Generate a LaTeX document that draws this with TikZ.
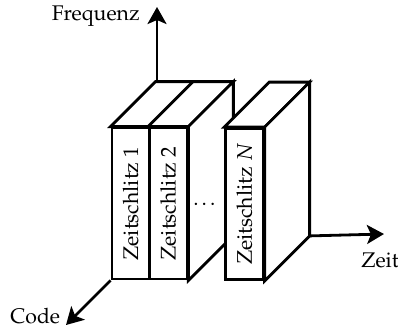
\documentclass[tikz,border=0pt]{standalone}
\usepackage[T1]{fontenc}
\usepackage{mathpazo}
\usetikzlibrary{arrows.meta,calc}
\tikzset{
  edge/.style={line width=1.4pt, line join=miter},
  axis/.style={line width=1.4pt, -{Stealth[length=8.5pt,width=9.5pt,inset=2pt]}},
  face/.style={edge, draw, fill=white, inner sep=0pt, minimum width=18.75pt, minimum height=75.5pt},
  txt/.style={font=\fontsize{10.6}{13}\selectfont},
  slotlabel/.style={txt, rotate=90},
  axlabel/.style={txt, inner sep=0pt}
}
\begin{document}
\begin{tikzpicture}[x=0.5pt,y=-0.5pt]
  \useasboundingbox (0,0) rectangle (398,328);
  % depth offset of the slabs
  \def\dx{45}\def\dy{-45}

  % axes (their hidden parts lie behind the slabs)
  \coordinate (fTop) at (157,83);
  \coordinate (fTip) at (157,7);
  \draw[axis] (fTop) -- (fTip);

  % slabs 1 and 2: front faces
  \node[face] (z1) at (130.75,203.5) {};
  \node[face] (z2) at (168.25,203.5) {};
  % shared top face and side face
  \draw[edge, fill=white] (z1.north west) -- ++(\dx,\dy) -- ($(z2.north east)+(\dx,\dy)$) -- (z2.north east) -- cycle;
  \draw[edge] (z2.north west) -- ++(\dx,\dy);
  \draw[edge, fill=white] (z2.north east) -- ++(\dx,\dy) -- ($(z2.south east)+(\dx,\dy)$) -- (z2.south east) -- cycle;
  \node[slotlabel] at (z1) {Zeitschlitz 1};
  \node[slotlabel] at (z2) {Zeitschlitz 2};

  % slab N
  \node[face] (zN) at (244.5,204) {};
  \draw[edge, fill=white] (zN.north west) -- ++(\dx,\dy) -- ($(zN.north east)+(\dx,\dy)$) -- (zN.north east) -- cycle;
  \draw[edge, fill=white] (zN.north east) -- ++(\dx,\dy) -- ($(zN.south east)+(\dx,\dy)$) -- (zN.south east) -- cycle;
  \node[slotlabel] at (zN) {Zeitschlitz $N$};

  \node[txt] (dots) at (206,204) {\dots};

  % time and code axes
  \coordinate (tTail) at ($(zN.south east)+(\dx,\dy)$);
  \coordinate (tTip) at (384,234);
  \draw[axis] (tTail) -- (tTip);
  \coordinate (cTip) at (66,325);
  \draw[axis] (z1.south west) -- (cTip);

  % axis labels
  \node[axlabel, anchor=base east] (lf) at (140,20) {Frequenz};
  \node[axlabel, anchor=base west] (lt) at (361,267) {Zeit};
  \node[axlabel, anchor=base west] (lc) at (10,323) {Code};
\end{tikzpicture}
\end{document}
